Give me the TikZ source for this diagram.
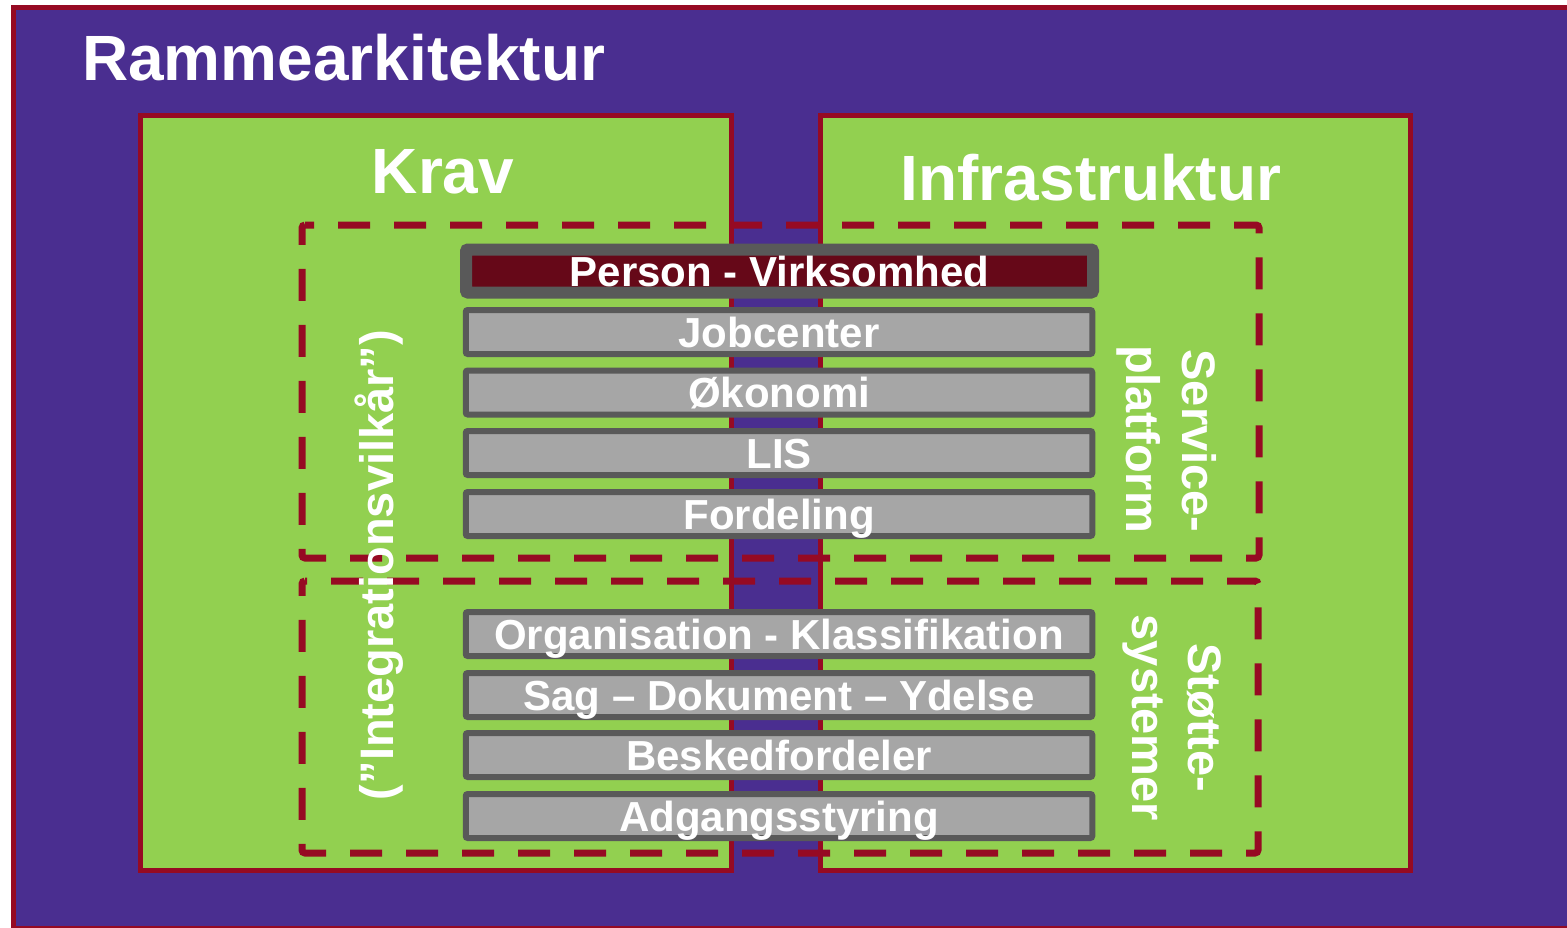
\documentclass[tikz,border=0pt]{standalone}
\usepackage{fontspec}
\setmainfont{Liberation Sans}
\definecolor{bgpurple}{RGB}{74,46,144}
\definecolor{lgreen}{RGB}{146,208,80}
\definecolor{bred}{RGB}{150,10,35}
\definecolor{dred}{RGB}{102,8,24}
\definecolor{bgray}{RGB}{166,166,166}
\definecolor{bgrayd}{RGB}{89,89,89}
\begin{document}
\begin{tikzpicture}[x=1pt,y=-1pt,
  frame/.style={draw=bred, line width=5pt, fill=bgpurple},
  area/.style={draw=bred, fill=lgreen, line width=5pt},
  dbox/.style={draw=bred, line width=7pt, rounded corners=3pt},
  bar/.style={draw=bgrayd, fill=bgray, line width=6pt, rounded corners=2pt,
    minimum width=626.5pt, minimum height=44pt, inner sep=0pt, outer sep=0pt,
    text=white, font=\bfseries\fontsize{42}{50}\selectfont, text height=30pt, text depth=0pt},
  pbar/.style={bar, fill=dred, line width=12pt, minimum width=627pt, minimum height=43pt},
  title/.style={text=white, inner sep=0pt, anchor=base, font=\bfseries\fontsize{64}{77}\selectfont},
  rot/.style={text=white, inner sep=0pt, anchor=base, font=\bfseries\fontsize{47}{56}\selectfont},
]
\clip (0,0) rectangle (1567,927);
\useasboundingbox (0,0) rectangle (1567,927);
\fill[white] (0,0) rectangle (1567,927);
% outer frame
\draw[frame] (13,7) rectangle (1620,928);
\node[title, anchor=base west] (ramme) at (82,80) {Rammearkitektur};
% areas
\draw[area] (140,115) rectangle (731,870);
\draw[area] (820,115) rectangle (1410,870);
\node[title] (krav) at (443,193) {Krav};
\node[title] (infra) at (1091,200) {Infrastruktur};
% dashed boxes
\draw[dbox, dash pattern=on 32pt off 24pt, dash phase=23pt]
  (302,225) -- (1259,225) -- (1259,558) -- (302,558) -- cycle;
\draw[dbox, dash pattern=on 32pt off 24pt, dash phase=30pt]
  (302,581) -- (1258,581) -- (1258,853) -- (302,853) -- cycle;
% bars
\node[pbar] (person) at (779.5,271) {Person - Virksomhed};
\node[bar] (job) at (779,332) {Jobcenter};
\node[bar] (oko) at (779,392.5) {Økonomi};
\node[bar] (lis) at (779,453) {LIS};
\node[bar] (ford) at (779,514) {Fordeling};
\node[bar] (org) at (779,634) {Organisation - Klassifikation};
\node[bar] (sag) at (779,695) {Sag – Dokument – Ydelse};
\node[bar] (besk) at (779,755) {Beskedfordeler};
\node[bar] (adg) at (779,816) {Adgangsstyring};
% rotated labels
\node[rot, rotate=90] (integ) at (393,565) {(”Integrationsvilkår”)};
\node[rot, rotate=-90] (serv) at (1182,441) {Service-};
\node[rot, rotate=-90] (plat) at (1126,439) {platform};
\node[rot, rotate=-90] (stotte) at (1188,718) {Støtte-};
\node[rot, rotate=-90] (syst) at (1132,718) {systemer};
\end{tikzpicture}
\end{document}
